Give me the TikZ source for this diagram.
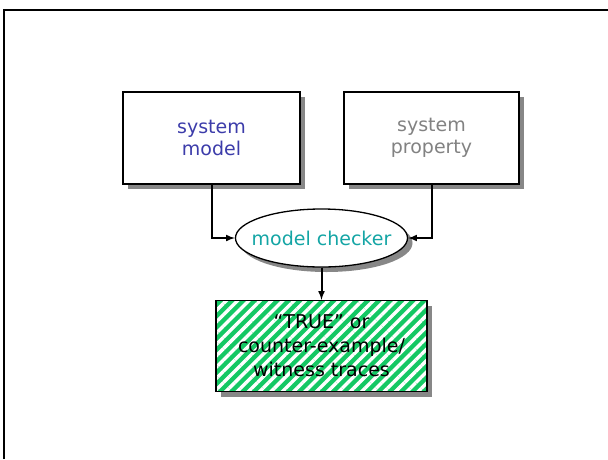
\documentclass[tikz,border=0pt]{standalone}
\usepackage{fontspec}
\setmainfont{DejaVu Sans}
\usetikzlibrary{arrows,shadows,shapes.geometric,patterns.meta}

\definecolor{modelblue}{RGB}{60,60,170}
\definecolor{propgray}{RGB}{130,130,130}
\definecolor{checkteal}{RGB}{20,165,165}
\definecolor{hatchgreen}{RGB}{20,200,100}
\definecolor{shadowgray}{RGB}{135,135,135}

\tikzset{
  shade/.style = {drop shadow={shadow xshift=5pt, shadow yshift=-5pt, fill=shadowgray, opacity=1}},
  box/.style = {draw, line width=1.3pt, fill=white, shade, align=center,
                font=\fontsize{19}{22}\selectfont},
  conn/.style = {line width=2pt, -latex}
}

\begin{document}
\begin{tikzpicture}[x=1pt, y=-1pt]
      \useasboundingbox (0,0) rectangle (608,459);
      % frame of the slide
      \draw[line width=2pt] (4,459) -- (4,9.5) -- (608,9.5);

      \node[box, minimum width=177pt, minimum height=92pt, text=modelblue] (model) at (211.5,138) {system\\model};
      \node[box, minimum width=175pt, minimum height=92pt, text=propgray] (prop) at (431.5,138) {system\\property};
      \node[box, ellipse, inner xsep=-9pt, inner ysep=0pt, minimum width=172pt, minimum height=58pt, text=checkteal] (checker) at (321.5,238) {model checker};
      % striped result box, border drawn again over the stripes
      \node[box, minimum width=211pt, minimum height=91pt, font=\fontsize{19}{24}\selectfont,
            fill=hatchgreen,
            postaction={pattern={Lines[angle=45, distance=8pt, line width=3.4pt]}, pattern color=white},
            postaction={draw, line width=1.3pt}]
            (result) at (321.5,346) {``TRUE'' or\\counter-example/\\witness traces};

      \draw[conn] (model.south) |- (checker.west);
      \draw[conn] (prop.south) |- (checker.east);
      \draw[conn] (checker.south) -- (result.north);
\end{tikzpicture}
\end{document}
